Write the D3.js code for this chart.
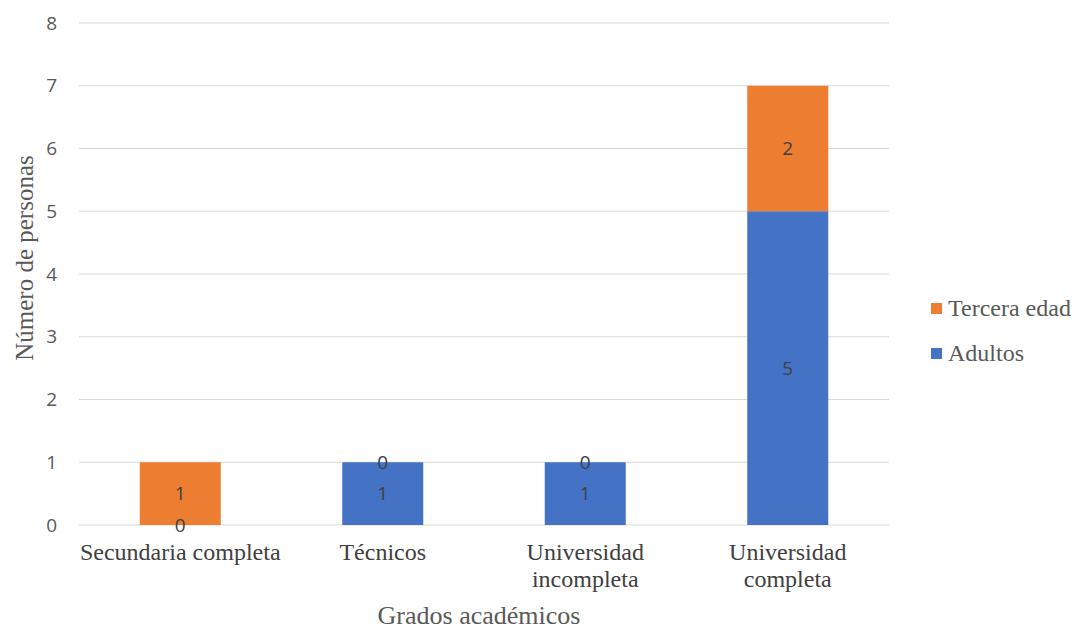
<!DOCTYPE html>
<html>
<head>
<meta charset="utf-8">
<script src="https://cdn.jsdelivr.net/npm/d3@7"></script>
<style>
  body { margin: 0; background: #fff; }
</style>
</head>
<body>
<script>
// chart data
const categories = ['Secundaria completa', 'Técnicos', 'Universidad incompleta', 'Universidad completa'];
const catLines = [['Secundaria completa'], ['Técnicos'], ['Universidad', 'incompleta'], ['Universidad', 'completa']];
const adultos = [0, 1, 1, 5];
const terceraEdad = [1, 0, 0, 2];
const yTicks = [0, 1, 2, 3, 4, 5, 6, 7, 8];

const W = 1074, H = 631;
const margin = { top: 23, right: 185, bottom: 106, left: 79 };
const width = W - margin.left - margin.right,
  height = H - margin.top - margin.bottom;

const colors = { adultos: '#4472c4', tercera: '#ed7d31' };
const serif = '"Liberation Serif", "Times New Roman", serif';
const sans = '"Open Sans", sans-serif';

const svg = d3.select('body').append('svg')
  .attr('width', W)
  .attr('height', H);

const g = svg.append('g')
  .attr('transform', `translate(${margin.left},${margin.top})`);

const x = d3.scaleBand().domain(categories).range([0, width]).paddingInner(0.6).paddingOuter(0.3);
const y = d3.scaleLinear().domain([0, 8]).range([height, 0]);

// gridlines
g.selectAll('.grid').data(yTicks).enter().append('line')
  .attr('x1', 0).attr('x2', width)
  .attr('y1', d => y(d)).attr('y2', d => y(d))
  .attr('stroke', '#d9d9d9').attr('stroke-width', 1);

// y tick labels
g.selectAll('.ytick').data(yTicks).enter().append('text')
  .attr('x', -22).attr('y', d => y(d)).attr('dy', '0.35em')
  .attr('text-anchor', 'end')
  .style('font-family', sans).style('font-size', '19px')
  .attr('fill', '#595959')
  .text(d => d);

// stacked data
const rows = categories.map((c, i) => ({ cat: c, adultos: adultos[i], tercera: terceraEdad[i] }));
const stack = d3.stack().keys(['adultos', 'tercera'])(rows);

stack.forEach(layer => {
  g.selectAll('.bar-' + layer.key).data(layer).enter().append('rect')
    .attr('x', d => x(d.data.cat))
    .attr('width', x.bandwidth())
    .attr('y', d => y(d[1]))
    .attr('height', d => y(d[0]) - y(d[1]))
    .attr('fill', colors[layer.key]);
});

// data labels
stack.forEach(layer => {
  g.selectAll('.lbl-' + layer.key).data(layer).enter().append('text')
    .attr('x', d => x(d.data.cat) + x.bandwidth() / 2)
    .attr('y', d => (y(d[0]) + y(d[1])) / 2)
    .attr('dy', '0.35em')
    .attr('text-anchor', 'middle')
    .style('font-family', sans).style('font-size', '19px')
    .attr('fill', '#404040')
    .text(d => d[1] - d[0]);
});

// category labels
categories.forEach((c, i) => {
  const t = g.append('text')
    .attr('x', x(c) + x.bandwidth() / 2)
    .attr('y', height + 35)
    .attr('text-anchor', 'middle')
    .style('font-family', serif).style('font-size', '24px')
    .attr('fill', '#404040');
  catLines[i].forEach((line, j) => {
    t.append('tspan').attr('x', x(c) + x.bandwidth() / 2).attr('dy', j === 0 ? 0 : 27).text(line);
  });
});

// axis titles
svg.append('text')
  .attr('x', margin.left + width / 2 - 5).attr('y', 624)
  .attr('text-anchor', 'middle')
  .style('font-family', serif).style('font-size', '26px')
  .attr('fill', '#595959')
  .text('Grados académicos');

svg.append('text')
  .attr('transform', `translate(33,${margin.top + 235}) rotate(-90)`)
  .attr('text-anchor', 'middle')
  .style('font-family', serif).style('font-size', '25px')
  .attr('fill', '#595959')
  .text('Número de personas');

// legend
const legend = [['Tercera edad', colors.tercera], ['Adultos', colors.adultos]];
legend.forEach((l, i) => {
  const ly = 308 + i * 45;
  svg.append('rect').attr('x', 931).attr('y', ly - 5).attr('width', 11).attr('height', 11).attr('fill', l[1]);
  svg.append('text').attr('x', 948).attr('y', ly).attr('dy', '0.35em')
    .style('font-family', serif).style('font-size', '24px')
    .attr('fill', '#595959')
    .text(l[0]);
});
</script>
</body>
</html>
